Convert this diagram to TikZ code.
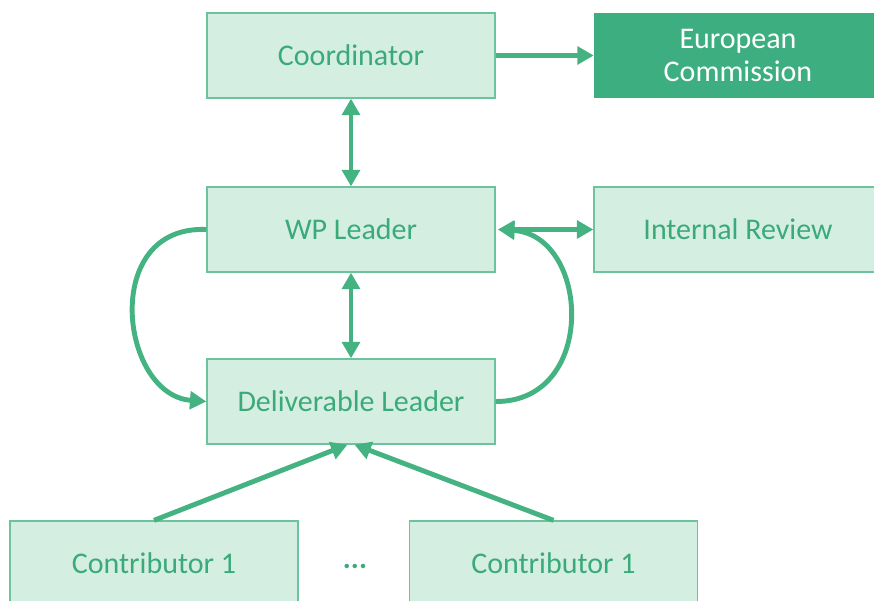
\documentclass[tikz,border=0pt]{standalone}
\usepackage{fontspec}
\setmainfont{Carlito}
\usepackage{tikz}
\usetikzlibrary{arrows.meta, positioning}
\usepackage{xcolor}
\definecolor{boxfill}{HTML}{D5EEE2}
\definecolor{boxline}{HTML}{6DC39E}
\definecolor{boxtext}{HTML}{3BAA79}
\definecolor{ecfill}{HTML}{3DAE7F}
\definecolor{flow}{HTML}{45B282}

\begin{document}
\begin{tikzpicture}[x=0.03cm, y=-0.03cm,
  every node/.style={font=\fontsize{25.6}{31}\selectfont},
  role/.style={draw=boxline, line width=1.1pt, fill=boxfill, text=boxtext, minimum width=8.64cm, minimum height=2.55cm, align=center},
  ec/.style={fill=ecfill, text=white, minimum width=8.64cm, minimum height=2.55cm, align=center},
  link/.style={draw=flow, line width=4.2pt, -{Triangle[length=14pt, width=15pt]}},
  both/.style={link, {Triangle[length=14pt, width=15pt]}-{Triangle[length=14pt, width=15pt]}}]
\useasboundingbox (0,0) rectangle (874,601);
% boxes
\node[role] (coord) at (351,55.5) {Coordinator};
\node[ec] (ec) at (738,55.5) {European\\[-3pt]Commission};
\node[role] (wp) at (351,229.5) {WP Leader};
\node[role] (review) at (738,229.5) {Internal Review};
\node[role] (dl) at (351,401.5) {Deliverable Leader};
\node[role] (c1) at (154,563.5) {Contributor 1};
\node[role] (c2) at (553.5,563.5) {Contributor 1};
\node[text=boxtext, font=\fontsize{25.6}{31}\selectfont\bfseries] (dots) at (355,566) {...};
% arrows
\draw[link] (coord.east) -- (ec.west);
\draw[both] (coord.south) -- (wp.north);
\draw[both] (wp.south) -- (dl.north);
\draw[both] ([xshift=2pt]wp.east) -- (review.west);
\draw[link] (wp.west) .. controls (100,225) and (120,395) .. (dl.west);
\draw[link] (dl.east) .. controls (598,402) and (590,235) .. ([xshift=2pt]wp.east);
\draw[link] (c1.north) -- ([xshift=-3pt]dl.south);
\draw[link] (c2.north) -- ([xshift=3pt]dl.south);
\end{tikzpicture}
\end{document}
